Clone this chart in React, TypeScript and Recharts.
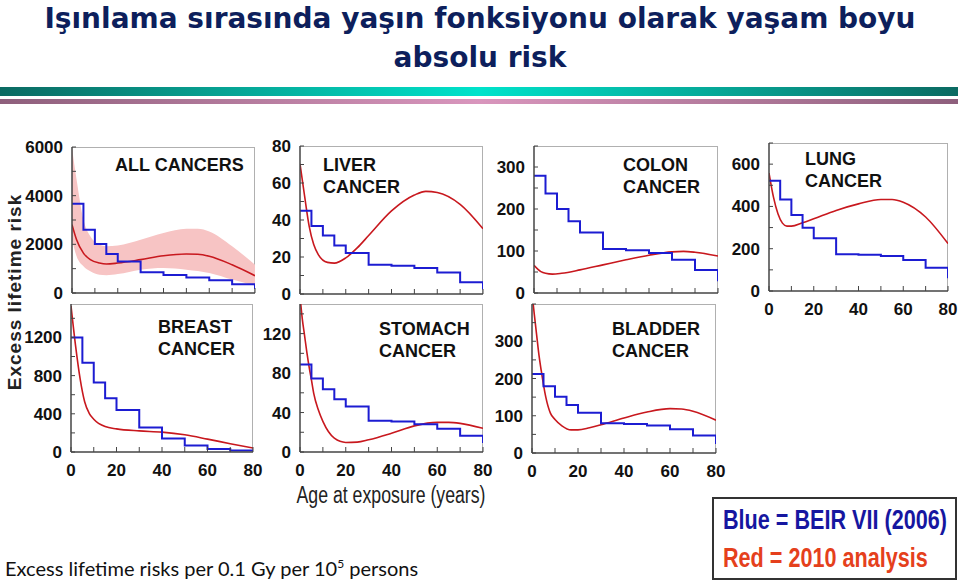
import { ComposedChart, Line, Area, XAxis, YAxis } from "recharts"

// ages where the BEIR VII steps change (last value = drop at 80)
const ages = [0, 5, 10, 15, 20, 30, 40, 50, 60, 70, 80]
const xTicks = [0, 10, 20, 30, 40, 50, 60, 70, 80]

const allBlue = [3670, 2600, 2010, 1600, 1290, 850, 740, 640, 520, 360, 160]
const allRedX = [0, 2, 5, 8, 12, 15, 20, 30, 40, 50, 55, 60, 70, 80]
const allRed = [2810, 2190, 1640, 1370, 1230, 1190, 1230, 1370, 1530, 1600, 1590, 1510, 1160, 710]
const allBandLow = [2190, 1510, 1100, 890, 750, 730, 780, 960, 1030, 960, 900, 820, 550, 300]
const allBandHigh = [5960, 4660, 3010, 2330, 1990, 1920, 1950, 2190, 2470, 2640, 2640, 2530, 1920, 1160]

const liverBlue = [45, 36.7, 31.6, 26.2, 22.2, 15.8, 15.3, 14, 11.6, 6.4, 2.5]
const liverRedX = [0, 2, 4, 6, 8, 12, 15, 20, 25, 30, 40, 50, 55, 60, 70, 80]
const liverRed = [70.4, 53, 36.7, 26.7, 21.3, 17.1, 16.7, 19.5, 24.9, 31.6, 44.9, 53.5, 55.5, 54.9, 48.5, 35.3]

const colonBlue = [279, 237, 200, 171, 144, 105, 102, 95, 79, 55, 28]
const colonRedX = [0, 3, 5, 8, 12, 20, 30, 40, 50, 60, 65, 70, 80]
const colonRed = [66, 51, 47, 45, 47, 55, 67, 79, 90, 98, 99, 97, 88]

const lungBlue = [522, 433, 360, 299, 249, 174, 172, 166, 147, 110, 60]
const lungRedX = [0, 2, 4, 6, 8, 10, 15, 20, 30, 40, 50, 55, 60, 70, 80]
const lungRed = [558, 444, 365, 321, 307, 307, 323, 342, 381, 412, 433, 433, 420, 350, 224]

const breastBlue = [1200, 934, 727, 564, 439, 256, 142, 69, 31, 17, 7]
const breastRedX = [0, 2, 4, 6, 8, 10, 15, 20, 30, 40, 50, 60, 70, 80]
const breastRed = [1530, 1114, 768, 526, 405, 343, 266, 242, 221, 208, 180, 135, 87, 42]

const stomachBlue = [88.7, 74.6, 63.5, 53.4, 46, 31.6, 30.9, 28.2, 23.5, 16.5, 9]
const stomachRedX = [0, 1, 2, 3, 4, 5, 6, 8, 10, 15, 20, 25, 30, 40, 50, 60, 65, 70, 80]
const stomachRed = [158, 135, 118, 101, 86, 73, 59.5, 42.7, 31, 14, 9.7, 10, 12.4, 19, 26.5, 30, 30, 29, 24]

const bladderBlue = [212, 179, 151, 129, 108, 80, 78, 74, 64, 47, 24]
const bladderRedX = [0, 1, 2, 3, 4, 5, 6, 8, 10, 13, 17, 20, 25, 30, 40, 50, 60, 65, 70, 80]
const bladderRed = [430, 372, 318, 264, 222, 183, 150, 107, 90, 73, 62, 62, 68, 76, 94, 110, 119, 118, 112, 88]

const BLUE = "#1c1cd2"
const RED = "#c8181e"
const AXIS = "#444"
const tickFont = { fontFamily: "'Liberation Sans', Arial, sans-serif", fontWeight: 700, fontSize: 17, fill: "#111" }
const labelFont = "'Liberation Sans', Arial, sans-serif"

type PanelProps = {
  box: [number, number, number, number]
  yMax: number
  yStep: number
  yLabelEvery: number
  yLabelMax: number
  blue: number[]
  redX: number[]
  red: number[]
  band?: { low: number[]; high: number[] }
  showX?: boolean
  title: string[]
  titlePos: [number, number]
}

function Panel({ box, yMax, yStep, yLabelEvery, yLabelMax, blue, redX, red, band, showX, title, titlePos }: PanelProps) {
  const [l, t, r, b] = box
  const ML = 50
  const MT = 10
  const MR = 12
  const XH = 34
  const w = r - l + ML + MR
  const h = b - t + MT + XH
  const yTicks: number[] = []
  for (let v = 0; v <= yMax; v += yStep) yTicks.push(v)
  const blueData = ages.map((x, i) => ({ x, v: blue[i] }))
  const redData = redX.map((x, i) => ({ x, v: red[i] }))
  const bandData = band ? redX.map((x, i) => ({ x, range: [band.low[i], band.high[i]] })) : []

  return (
    <>
      <div
        style={{
          position: "absolute",
          left: l,
          top: t,
          width: r - l,
          height: b - t,
          borderTop: "1px solid #b0b0b0",
          borderRight: "1px solid #b0b0b0",
          boxSizing: "border-box",
        }}
      />
      <div style={{ position: "absolute", left: l - ML, top: t - MT }}>
        <ComposedChart width={w} height={h} margin={{ top: MT, right: MR, bottom: 0, left: 0 }}>
          <XAxis
            type="number"
            dataKey="x"
            domain={[0, 80]}
            ticks={xTicks}
            height={XH}
            allowDataOverflow
            axisLine={{ stroke: AXIS, strokeWidth: 1.5 }}
            tickLine={{ stroke: AXIS }}
            tickSize={-5}
            tickMargin={17}
            tick={tickFont}
            tickFormatter={(v) => (showX && v % 20 === 0 ? String(v) : "")}
            interval={0}
          />
          <YAxis
            type="number"
            domain={[0, yMax]}
            ticks={yTicks}
            width={ML}
            allowDataOverflow
            axisLine={{ stroke: AXIS, strokeWidth: 1.5 }}
            tickLine={{ stroke: AXIS }}
            tickSize={-4}
            tickMargin={13}
            tick={tickFont}
            tickFormatter={(v) => (v % yLabelEvery === 0 && v <= yLabelMax ? String(v) : "")}
            interval={0}
          />
          {band && (
            <Area
              data={bandData}
              dataKey="range"
              type="monotone"
              fill="#f7c4c4"
              fillOpacity={1}
              stroke="none"
              isAnimationActive={false}
            />
          )}
          <Line
            data={redData}
            dataKey="v"
            type="monotone"
            stroke={RED}
            strokeWidth={1.6}
            dot={false}
            isAnimationActive={false}
          />
          <Line
            data={blueData}
            dataKey="v"
            type="stepAfter"
            stroke={BLUE}
            strokeWidth={2}
            dot={false}
            isAnimationActive={false}
          />
        </ComposedChart>
      </div>
      <div
        style={{
          position: "absolute",
          left: titlePos[0],
          top: titlePos[1],
          fontFamily: labelFont,
          fontWeight: 700,
          fontSize: 18,
          lineHeight: "22px",
          color: "#111",
          whiteSpace: "nowrap",
        }}
      >
        {title.map((s) => (
          <div key={s}>{s}</div>
        ))}
      </div>
    </>
  )
}

export default function App() {
  return (
    <div style={{ position: "absolute", left: 0, top: 0, width: 960, height: 584, background: "#fff", overflow: "hidden" }}>
      <div
        style={{
          position: "absolute",
          left: 0,
          top: -1,
          width: 960,
          textAlign: "center",
          fontFamily: "'Comic Sans MS', 'DejaVu Sans', sans-serif",
          fontWeight: 700,
          fontSize: 28,
          lineHeight: "39px",
          color: "#0d1f5c",
        }}
      >
        <div>Işınlama sırasında yaşın fonksiyonu olarak yaşam boyu</div>
        <div>absolu risk</div>
      </div>
      <div
        style={{
          position: "absolute",
          left: 0,
          top: 87,
          width: 958,
          height: 9,
          background: "linear-gradient(to right, #0b6a62, #00e3cb 50%, #0b6a62)",
        }}
      />
      <div
        style={{
          position: "absolute",
          left: 0,
          top: 99,
          width: 958,
          height: 5,
          background: "linear-gradient(to right, #8e5f7c, #d996bd 50%, #8e5f7c)",
        }}
      />

      <Panel
        box={[72, 147, 255, 293]}
        yMax={6000}
        yStep={1000}
        yLabelEvery={2000}
        yLabelMax={6000}
        blue={allBlue}
        redX={allRedX}
        red={allRed}
        band={{ low: allBandLow, high: allBandHigh }}
        title={["ALL CANCERS"]}
        titlePos={[115, 154]}
      />
      <Panel
        box={[300, 146, 483, 294]}
        yMax={80}
        yStep={10}
        yLabelEvery={20}
        yLabelMax={80}
        blue={liverBlue}
        redX={liverRedX}
        red={liverRed}
        title={["LIVER", "CANCER"]}
        titlePos={[323, 154]}
      />
      <Panel
        box={[534, 146, 718, 293]}
        yMax={350}
        yStep={50}
        yLabelEvery={100}
        yLabelMax={300}
        blue={colonBlue}
        redX={colonRedX}
        red={colonRed}
        title={["COLON", "CANCER"]}
        titlePos={[623, 154]}
      />
      <Panel
        box={[769, 143, 948, 291]}
        yMax={700}
        yStep={100}
        yLabelEvery={200}
        yLabelMax={600}
        blue={lungBlue}
        redX={lungRedX}
        red={lungRed}
        showX
        title={["LUNG", "CANCER"]}
        titlePos={[805, 148]}
      />
      <Panel
        box={[71, 304, 253, 452]}
        yMax={1550}
        yStep={200}
        yLabelEvery={400}
        yLabelMax={1200}
        blue={breastBlue}
        redX={breastRedX}
        red={breastRed}
        showX
        title={["BREAST", "CANCER"]}
        titlePos={[158, 316]}
      />
      <Panel
        box={[300, 304, 483, 452]}
        yMax={150}
        yStep={20}
        yLabelEvery={40}
        yLabelMax={120}
        blue={stomachBlue}
        redX={stomachRedX}
        red={stomachRed}
        showX
        title={["STOMACH", "CANCER"]}
        titlePos={[379, 318]}
      />
      <Panel
        box={[532, 304, 716, 453]}
        yMax={400}
        yStep={50}
        yLabelEvery={100}
        yLabelMax={300}
        blue={bladderBlue}
        redX={bladderRedX}
        red={bladderRed}
        showX
        title={["BLADDER", "CANCER"]}
        titlePos={[612, 318]}
      />

      <div
        style={{
          position: "absolute",
          left: 15,
          top: 292,
          transform: "translate(-50%, -50%) rotate(-90deg)",
          fontFamily: labelFont,
          fontWeight: 700,
          fontSize: 19,
          letterSpacing: 1,
          color: "#222",
          whiteSpace: "nowrap",
        }}
      >
        Excess lifetime risk
      </div>
      <div
        style={{
          position: "absolute",
          left: 391,
          top: 480,
          transform: "translateX(-50%) scaleX(0.77)",
          fontFamily: labelFont,
          fontSize: 23,
          lineHeight: "30px",
          color: "#222",
          whiteSpace: "nowrap",
        }}
      >
        Age at exposure (years)
      </div>
      <div
        style={{
          position: "absolute",
          left: 5,
          top: 552,
          fontFamily: "Lato, 'Open Sans', sans-serif",
          fontSize: 20,
          lineHeight: "24px",
          color: "#111",
          whiteSpace: "nowrap",
        }}
      >
        Excess lifetime risks per 0.1 Gy per 10<sup style={{ fontSize: 12 }}>5</sup> persons
      </div>
      <div
        style={{
          position: "absolute",
          left: 712,
          top: 497,
          width: 245,
          height: 83,
          border: "2px solid #333",
          boxSizing: "border-box",
          fontFamily: labelFont,
          fontWeight: 700,
          fontSize: 27,
          whiteSpace: "nowrap",
        }}
      >
        <div style={{ position: "absolute", left: 9, top: 5, color: "#1616a0", lineHeight: "32px", transform: "scaleX(0.8)", transformOrigin: "left" }}>
          Blue = BEIR VII (2006)
        </div>
        <div style={{ position: "absolute", left: 9, top: 43, color: "#e5401c", lineHeight: "32px", transform: "scaleX(0.8)", transformOrigin: "left" }}>
          Red = 2010 analysis
        </div>
      </div>
    </div>
  )
}
